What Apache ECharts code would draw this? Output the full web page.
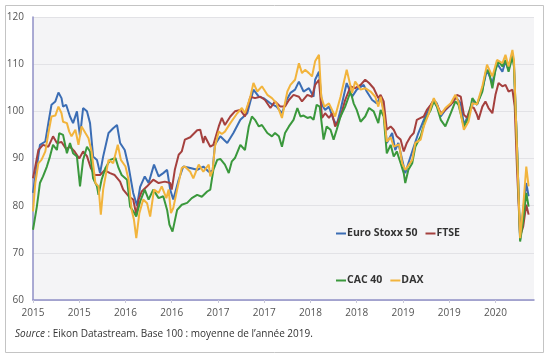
<!DOCTYPE html>
<html><head><meta charset="utf-8">
<script src="https://cdn.jsdelivr.net/npm/echarts@6/dist/echarts.min.js"></script>
<style>html,body{margin:0;padding:0;background:#fff}#c{width:551px;height:355px}</style>
</head><body><div id="c"></div>
<script>
// x values: months since January 2015
const tickLabels = ['2015','2015','2016','2016','2017','2017','2018','2018','2019','2019','2020'];
const seriesNames = ['Euro Stoxx 50','FTSE','CAC 40','DAX'];
const stoxx = [[0,82.7],[0.5,88.3],[0.9,92.9],[1.6,93.6],[2,97.6],[2.4,101.4],[2.9,102.1],[3.3,104],[3.7,102.8],[3.9,101],[4.3,101.4],[4.8,98.9],[5.2,97.5],[5.7,100],[6.1,94.7],[6.5,100.7],[7,100],[7.4,97.5],[7.8,90.4],[8.3,89.7],[8.7,86.9],[9.1,90.4],[9.8,95.4],[10.4,96.4],[10.9,97.1],[11.3,93.3],[11.9,91.8],[12.4,88.3],[13,82.7],[13.5,80],[13.9,84],[14.5,86.2],[15,84.8],[15.7,88.7],[16.3,86.2],[16.9,86.9],[17.4,87.6],[17.8,83.4],[18.2,81.3],[18.9,85.5],[19.5,88.3],[20.4,88],[21.3,87.6],[22.1,88.3],[22.8,87.2],[23.3,87.4],[23.6,92.9],[24.3,94.7],[25.2,93.3],[26,95.4],[26.9,98.2],[27.8,99.6],[28.6,104.6],[29.3,103.1],[29.9,102.8],[30.8,101.7],[31.6,101],[32.3,99.6],[32.9,102.4],[33.4,103.9],[34,104.6],[34.5,106.3],[35.1,104.2],[35.8,104.9],[36.4,103.1],[36.6,106.7],[37.1,108.4],[37.5,101.4],[37.9,100.3],[38.4,101],[39,98.2],[39.4,97.1],[39.9,100.3],[40.7,106],[41.4,103.1],[42,104.6],[42.9,105.6],[43.3,104.2],[44,102.4],[44.6,101.7],[45.1,103.1],[45.5,100.3],[45.9,93.3],[46.6,95.4],[47,91.8],[47.4,93.3],[48.1,88.3],[48.3,86.9],[48.7,89],[49.4,92.5],[50,95.4],[50.7,98.2],[51.3,100.3],[52,102.4],[52.4,101.7],[52.9,98.9],[53.5,100.3],[54.2,101.4],[54.8,103.1],[55.5,101.7],[55.9,97.1],[56.5,99.3],[57.2,102.1],[57.6,101.4],[58.3,104.6],[58.9,108.8],[59.6,106],[60.2,110.2],[60.9,108.4],[61.3,110.6],[61.7,108.8],[62.2,112.3],[62.4,110],[62.8,92.5],[63.2,72.8],[63.6,79.1],[64,84.8],[64.3,82]];
const ftse = [[0,85.8],[0.3,88.3],[0.7,91.8],[1.3,92.9],[2,92.5],[2.6,94.7],[3.1,93.3],[3.7,93.5],[4.3,92],[4.8,92.5],[5.4,91.5],[6,90],[6.5,91.5],[7,90.5],[7.5,88],[8,86.5],[8.7,86.5],[9.3,87.5],[10,86.9],[10.6,86.5],[11.3,85.1],[11.7,83.4],[12.4,82],[13,81.3],[13.4,78.1],[13.7,81.3],[14.1,83],[14.8,84.1],[15.6,85.5],[16.3,84.8],[17.1,85.1],[17.8,84.8],[18,83.4],[18.4,87.6],[18.9,90.8],[19.3,91.5],[19.7,94],[20.4,94.5],[21.3,96],[21.7,96.1],[22.1,93.3],[22.3,94.7],[23,92.5],[23.4,92.9],[24.1,96.8],[24.5,98.6],[24.9,97.1],[25.6,98.9],[26.2,100],[26.9,100.3],[27.5,98.9],[28.2,103.1],[28.8,102.8],[29.5,103.1],[30.1,102.4],[30.8,100.7],[31.4,102.1],[32.1,101],[32.7,101],[33.2,102.4],[33.8,103.5],[34.5,103.1],[34.9,102.1],[35.6,103.5],[36.2,103.1],[36.6,105.6],[37.1,106.7],[37.5,98.6],[37.9,99.6],[38.4,98.6],[38.8,99.6],[39.2,96.8],[39.9,98.9],[40.5,102.4],[41.2,105.3],[41.8,104.9],[42.5,105.6],[43.1,106.7],[43.6,106],[44.2,104.9],[44.8,102.8],[45.1,103.5],[45.5,102.1],[45.9,96.1],[46.4,96.8],[46.8,96.1],[47.2,94.7],[47.7,94],[48.1,91.5],[48.5,93.3],[49,94.7],[49.4,95.4],[49.8,98.2],[50.3,98.6],[50.7,98.9],[51.1,100.3],[51.6,101.4],[52,102.4],[52.4,101.4],[52.9,99.6],[53.3,100],[53.9,101],[54.6,102.1],[55,103.5],[55.5,103.1],[55.9,99.3],[56.3,98.6],[56.8,101],[57.2,100.7],[57.6,99.3],[57.8,98.2],[58.3,101],[58.7,102.1],[59.1,100.7],[59.6,99.6],[60,103.5],[60.4,106],[60.9,105.3],[61.3,105.6],[61.7,104.2],[62.2,104.6],[62.5,101],[62.8,87.6],[63.2,73.5],[63.6,75.6],[64,80.2],[64.3,78.1]];
const cac = [[0,74.9],[0.5,79.8],[0.9,84.8],[1.3,86.2],[1.8,88.3],[2.2,90.4],[2.6,92.9],[3.1,91.8],[3.4,95.4],[3.9,95],[4.4,91.1],[4.8,93.3],[5.2,91.1],[5.7,90.4],[6.1,84.1],[6.5,89.7],[7,92.5],[7.4,91.5],[7.8,85.8],[8.3,84.1],[8.5,82.3],[8.9,85.5],[9.4,88],[10,89.7],[10.7,90.1],[11.1,88],[11.5,86.5],[12.2,85.5],[12.6,79.8],[13,78.8],[13.4,77.7],[13.9,80.9],[14.5,83.4],[15,81.3],[15.6,83.4],[16.3,81.6],[16.9,82],[17.4,79.1],[17.7,76],[18.1,74.5],[18.7,79.1],[19.3,80.2],[20,80.6],[20.6,81.6],[21.3,82.3],[21.9,81.9],[22.6,83],[23,83.4],[23.4,87.6],[23.9,89.7],[24.3,89.9],[24.9,88.7],[25.4,86.9],[25.8,89.4],[26.2,90.1],[26.9,92.9],[27.5,91.8],[28,96.8],[28.4,98.9],[28.8,98.2],[29.3,96.8],[29.7,97.1],[30.4,95.4],[31,94.7],[31.4,95.4],[31.9,94.7],[32.3,92.5],[32.7,95.4],[33.2,96.8],[33.8,98.2],[34.3,100.7],[34.7,98.9],[35.1,99.1],[35.6,98.6],[36,98.8],[36.4,98.2],[36.8,101.4],[37.2,101],[37.7,94],[38.1,96.8],[38.6,96.1],[39,94],[39.4,96.1],[39.9,98.9],[40.5,101],[41.2,104.2],[41.6,101.7],[42,100.3],[42.5,97.8],[43.1,98.9],[43.6,100.7],[44.2,100],[44.8,97.5],[45.1,100.3],[45.5,98.9],[45.9,91.1],[46.4,92.9],[46.8,90.4],[47.2,91.5],[47.7,89],[48.1,86.9],[48.3,84.8],[48.7,87.6],[49.2,89],[49.6,92.5],[50.3,94.7],[50.9,98.2],[51.6,100.3],[52,102.1],[52.4,101],[52.9,98.2],[53.5,96.8],[54.2,99.6],[54.8,102.1],[55.2,101.4],[55.9,96.8],[56.5,98.6],[57,102.8],[57.6,101.4],[58.3,104.2],[58.7,108.1],[59.1,108.8],[59.6,104.9],[60,108.8],[60.4,110.6],[60.9,109.5],[61.3,110.9],[61.7,108.4],[62.2,111.6],[62.4,109.5],[62.8,92.5],[63.2,72.4],[63.6,77],[64,82.7],[64.3,79.8]];
const dax = [[0,78.8],[0.3,84.8],[0.7,89],[1.1,89.7],[1.6,91.5],[2,95.4],[2.4,98.9],[2.9,99.1],[3.3,101],[3.7,99.6],[3.9,97.8],[4.4,97.5],[4.7,95.7],[5,94.7],[5.5,96.1],[5.9,92.9],[6.3,96.8],[6.8,95.4],[7.2,94.3],[7.6,91.5],[8.1,84.8],[8.5,84.1],[8.8,78.1],[9.1,83.4],[9.8,89.7],[10.4,89],[11,92.9],[11.4,89.7],[12,88.3],[12.4,85.5],[12.8,79.1],[13.1,77],[13.4,73.1],[13.8,78.4],[14.3,81.3],[14.8,80.5],[15.2,77.7],[15.7,83.4],[16.3,82.7],[16.7,84.1],[17.3,81.6],[17.6,83.4],[17.9,78.4],[18.2,79.5],[18.7,83.4],[19.3,88],[19.7,88.3],[20.4,87.2],[20.8,85.8],[21.5,88.7],[22.1,87.2],[22.8,88.7],[23,86.2],[23.3,87.4],[23.6,92.5],[24.1,95.7],[24.5,95.2],[24.9,95.7],[25.6,97.5],[26.5,99.6],[27.1,100.7],[27.5,99.6],[28.2,103.1],[28.6,106],[29.1,104.2],[29.7,105.3],[30.4,103.5],[31,102.8],[31.6,101.7],[32.3,98.6],[33,104.2],[33.4,105.6],[34,106.7],[34.5,110.2],[34.9,108.1],[35.3,108.8],[35.8,108.1],[36.2,107.4],[36.6,110.6],[37.1,112],[37.4,103.1],[37.8,101],[38.4,101.7],[38.8,100.3],[39.2,98.9],[39.9,103.1],[40.7,108.8],[41.4,103.9],[41.8,106.3],[42.5,104.6],[43.1,104.9],[43.8,104.2],[44.4,103.1],[44.8,101],[45.1,103.1],[45.5,99.6],[45.9,93.6],[46.4,94.5],[46.8,92.5],[47.5,93],[47.9,89],[48.3,87.6],[48.7,88.5],[49.2,89.7],[49.6,93.3],[50.3,94],[50.7,96.8],[51.3,99.3],[52,102.8],[52.4,101.4],[52.9,99.3],[53.5,100.7],[54.2,101.7],[54.8,103.5],[55.2,102],[55.9,96.1],[56.5,97.8],[57,101.7],[57.6,101.5],[58.3,105.3],[58.9,109.9],[59.6,107.4],[60.2,110.9],[60.9,110.2],[61.3,112],[61.7,109.5],[62.2,113],[62.4,110.9],[62.8,91.8],[63.2,73.1],[63.6,79.8],[64,88.3],[64.3,84.1]];
const colors = ['#3b6db4','#a5403e','#3a983c','#f2b43c'];
const seriesData = [stoxx, ftse, cac, dax];

const chart = echarts.init(document.getElementById('c'), null, {renderer:'canvas'});
const font = '"Open Sans", "Noto Sans", sans-serif';
chart.setOption({
  animation:false,
  backgroundColor:'#ffffff',
  color: colors,
  grid:{left:33,right:17,top:17,bottom:55,show:true,backgroundColor:'#f4f4f6',borderWidth:0},
  xAxis:{type:'value',min:0,max:65,interval:6,
    axisLine:{show:true,lineStyle:{color:'#8f8fc6',width:1.5}},
    axisTick:{show:true,length:3,lineStyle:{color:'#c8c8d8'}},
    splitLine:{show:false},
    axisLabel:{fontFamily:font,fontSize:10,color:'#555',margin:8,showMaxLabel:false,
      formatter:function(v){const i=v/6; return (Number.isInteger(i)&&i<tickLabels.length)?tickLabels[i]:'';}}
  },
  yAxis:{type:'value',min:60,max:120,interval:10,
    axisLine:{show:true,lineStyle:{color:'#8f8fc6',width:1.5}},
    axisTick:{show:false},
    splitLine:{lineStyle:{color:'#e2e2e6',width:1}},
    axisLabel:{fontFamily:font,fontSize:10,color:'#555',margin:9}
  },
  legend:[
    {data:[seriesNames[0],seriesNames[1]],left:331,top:223,icon:'rect',itemWidth:10,itemHeight:2,itemGap:8,
     textStyle:{fontFamily:font,fontSize:10.5,fontWeight:'bold',color:'#333',width:72,padding:[0,0,0,-4]}},
    {data:[seriesNames[2],seriesNames[3]],left:331,top:270,icon:'rect',itemWidth:10,itemHeight:2,itemGap:8,
     textStyle:{fontFamily:font,fontSize:10.5,fontWeight:'bold',color:'#333',width:72,padding:[0,0,0,-4]}}
  ],
  series: seriesData.map((d,i)=>({
    name:seriesNames[i],type:'line',data:d,showSymbol:false,symbol:'none',
    lineStyle:{width:2,color:colors[i]},itemStyle:{color:colors[i]},z:2+i
  })),
  graphic:[
    {type:'rect',left:3,top:3,shape:{width:538,height:347},style:{fill:'none',stroke:'#c4c4c4',lineWidth:1},silent:true,z:-1},
    {type:'text',left:15,top:329,style:{
      text:'{i|Source} : Eikon Datastream. Base 100 : moyenne de l’année 2019.',
      rich:{i:{fontStyle:'italic',fontFamily:font,fontSize:10,fill:'#333'}},
      font:'10px "Open Sans", sans-serif',fill:'#333'}}
  ]
});
</script></body></html>
